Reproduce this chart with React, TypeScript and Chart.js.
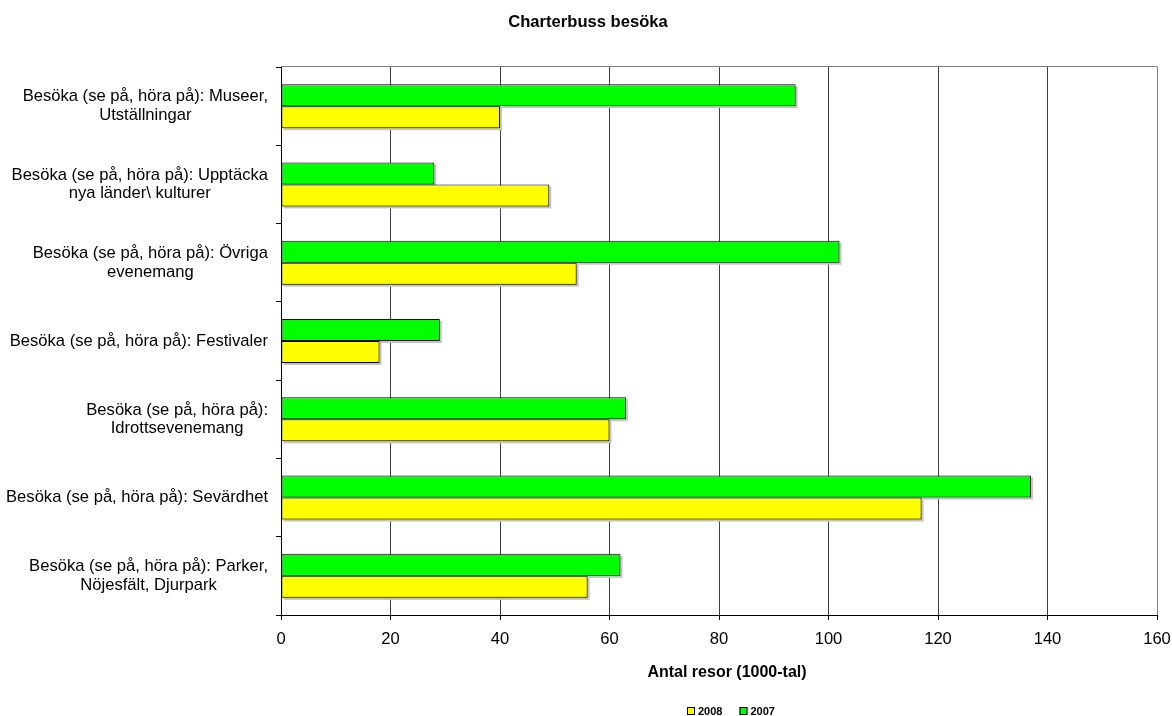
import React, { useEffect, useRef } from 'react';
import { Chart, registerables } from 'chart.js';

Chart.register(...registerables);

// ---- Data ----
const categories: string[][] = [
  ['Besöka (se på, höra på): Museer,', 'Utställningar'],
  ['Besöka (se på, höra på): Upptäcka', 'nya länder\\ kulturer'],
  ['Besöka (se på, höra på): Övriga', 'evenemang'],
  ['Besöka (se på, höra på): Festivaler'],
  ['Besöka (se på, höra på):', 'Idrottsevenemang'],
  ['Besöka (se på, höra på): Sevärdhet'],
  ['Besöka (se på, höra på): Parker,', 'Nöjesfält, Djurpark'],
];
const values2007 = [94, 28, 102, 29, 63, 137, 62];
const values2008 = [40, 49, 54, 18, 60, 117, 56];
const seriesNames = ['2007', '2008'];
const xMin = 0;
const xMax = 160;
const xStep = 20;
const chartTitle = 'Charterbuss besöka';
const xAxisTitle = 'Antal resor (1000-tal)';

const FONT = '"Liberation Sans", Arial, Helvetica, sans-serif';
const COLORS = ['#00FF00', '#FFFF00'];

const shadowPlugin = {
  id: 'barShadow',
  beforeDatasetsDraw(chart: any) {
    const { ctx } = chart;
    ctx.save();
    ctx.fillStyle = '#c4c4c4';
    chart.data.datasets.forEach((_: any, di: number) => {
      const meta = chart.getDatasetMeta(di);
      meta.data.forEach((bar: any) => {
        const { x, y, base, height } = bar.getProps(['x', 'y', 'base', 'height'], true);
        ctx.fillRect(base + 2, y - height / 2 + 2, x - base, height);
      });
    });
    ctx.restore();
  },
};

const textPlugin = {
  id: 'customTexts',
  afterDraw(chart: any) {
    const { ctx, chartArea, scales } = chart;
    const yScale = scales.y;
    ctx.save();

    // top border of plot area
    ctx.strokeStyle = '#808080';
    ctx.lineWidth = 1;
    ctx.beginPath();
    ctx.moveTo(chartArea.left, Math.round(chartArea.top) - 0.5);
    ctx.lineTo(chartArea.right + 0.5, Math.round(chartArea.top) - 0.5);
    ctx.stroke();

    // category labels: right-aligned block, centered lines
    ctx.fillStyle = '#000';
    ctx.font = `16.6px ${FONT}`;
    ctx.textAlign = 'center';
    ctx.textBaseline = 'middle';
    const labelRight = chartArea.left - 13;
    const lh = 18.6;
    categories.forEach((lines, i) => {
      const cy = yScale.getPixelForValue(i);
      const w = Math.max(...lines.map((l) => ctx.measureText(l).width));
      const cx = labelRight - w / 2;
      lines.forEach((l, k) => {
        ctx.fillText(l, cx, cy + (k - (lines.length - 1) / 2) * lh);
      });
    });

    // chart title
    ctx.font = `bold 16.6px ${FONT}`;
    ctx.textAlign = 'center';
    ctx.textBaseline = 'alphabetic';
    ctx.fillText(chartTitle, 588, 27);

    // x axis title
    ctx.font = `bold 16px ${FONT}`;
    ctx.fillText(xAxisTitle, 727, 677);

    // legend (2008 first, then 2007)
    ctx.font = `bold 11px ${FONT}`;
    ctx.textAlign = 'left';
    ctx.textBaseline = 'middle';
    let lx = 687;
    const ly = 711;
    const order = [1, 0];
    order.forEach((di) => {
      const ds = chart.data.datasets[di];
      ctx.fillStyle = ds.backgroundColor;
      ctx.fillRect(lx, ly - 4, 8, 8);
      ctx.strokeStyle = '#000';
      ctx.lineWidth = 1;
      ctx.strokeRect(lx + 0.5, ly - 3.5, 7, 7);
      ctx.fillStyle = '#000';
      ctx.fillText(ds.label, lx + 11, ly + 0.5);
      lx += 11 + ctx.measureText(ds.label).width + 17;
    });

    ctx.restore();
  },
};

export default function App() {
  const ref = useRef<HTMLCanvasElement>(null);

  useEffect(() => {
    document.body.style.margin = '0';
    const canvas = ref.current;
    if (!canvas) return;
    const chart = new Chart(canvas, {
      type: 'bar',
      data: {
        labels: categories,
        datasets: [
          {
            label: seriesNames[0],
            data: values2007,
            backgroundColor: COLORS[0],
            borderColor: '#000',
            borderWidth: 1,
            borderSkipped: false,
            categoryPercentage: 0.562,
            barPercentage: 1,
          },
          {
            label: seriesNames[1],
            data: values2008,
            backgroundColor: COLORS[1],
            borderColor: '#000',
            borderWidth: 1,
            borderSkipped: false,
            categoryPercentage: 0.562,
            barPercentage: 1,
          },
        ],
      },
      options: {
        indexAxis: 'y',
        responsive: false,
        animation: false,
        devicePixelRatio: 1,
        layout: { padding: { left: 0, right: 15, top: 67, bottom: 61 } },
        plugins: {
          legend: { display: false },
          title: { display: false },
          tooltip: { enabled: false },
        },
        scales: {
          x: {
            type: 'linear',
            min: xMin,
            max: xMax,
            ticks: {
              stepSize: xStep,
              color: '#000',
              padding: 9,
              font: { family: FONT, size: 16.6 },
            },
            grid: {
              color: (c: any) => (c.tick && c.tick.value === xMax ? '#808080' : '#404040'),
              tickColor: '#000',
              tickLength: 5,
              lineWidth: 1,
            },
            border: { display: true, color: '#000', width: 1 },
            afterFit: (s: any) => {
              s.height = 40;
              s.paddingLeft = 0;
              s.paddingRight = 0;
            },
          },
          y: {
            type: 'category',
            offset: true,
            ticks: { display: false },
            grid: {
              offset: true,
              drawOnChartArea: false,
              drawTicks: true,
              tickLength: 5,
              color: '#000',
              tickColor: '#000',
            },
            border: { display: true, color: '#000', width: 1 },
            afterFit: (s: any) => {
              s.width = 281;
            },
          },
        },
      },
      plugins: [shadowPlugin, textPlugin],
    });
    return () => chart.destroy();
  }, []);

  return (
    <div style={{ width: 1172, height: 716 }}>
      <canvas ref={ref} width={1172} height={716} style={{ display: 'block' }} />
    </div>
  );
}
